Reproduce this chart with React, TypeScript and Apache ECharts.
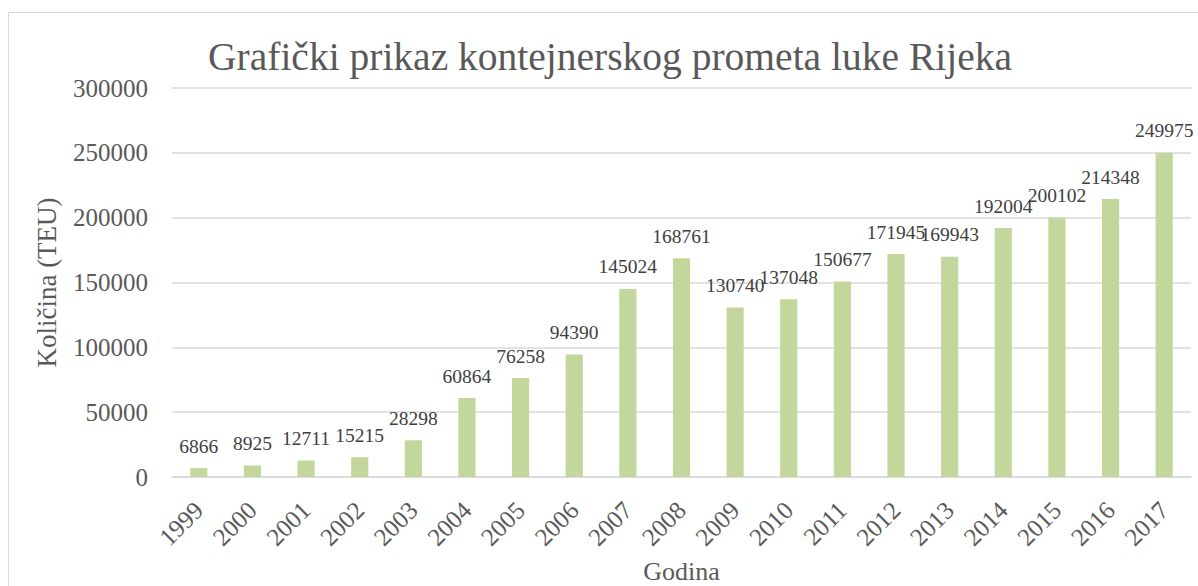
import React, { useEffect, useRef } from "react";
import * as echarts from "echarts";

const years = ["1999","2000","2001","2002","2003","2004","2005","2006","2007","2008","2009","2010","2011","2012","2013","2014","2015","2016","2017"];
const teu = [6866, 8925, 12711, 15215, 28298, 60864, 76258, 94390, 145024, 168761, 130740, 137048, 150677, 171945, 169943, 192004, 200102, 214348, 249975];
const titleText = "Grafički prikaz kontejnerskog prometa luke Rijeka";
const yName = "Količina (TEU)";
const xName = "Godina";

const FONT = "Liberation Serif";
const TXT = "#595959";

export default function App() {
  const ref = useRef<HTMLDivElement>(null);
  useEffect(() => {
    document.body.style.margin = "0";
    const chart = echarts.init(ref.current!, undefined, { renderer: "svg" });
    chart.setOption({
      animation: false,
      backgroundColor: "#ffffff",
      title: {
        text: titleText,
        left: 605,
        textAlign: "center",
        top: 32,
        textStyle: { fontFamily: FONT, fontSize: 39.5, fontWeight: "normal", color: TXT },
      },
      graphic: [
        {
          type: "rect",
          shape: { x: 8.5, y: 12.5, width: 1400, height: 800 },
          style: { fill: "none", stroke: "#d9d9d9", lineWidth: 1 },
          silent: true,
        },
      ],
      grid: { left: 172, right: 7, top: 88, bottom: 109, outerBoundsMode: "none", containLabel: false },
      xAxis: {
        type: "category",
        data: years,
        name: xName,
        nameLocation: "middle",
        nameGap: 81,
        nameTextStyle: { fontFamily: FONT, fontSize: 26, color: TXT },
        axisLine: { lineStyle: { color: "#d9d9d9", width: 1.5 } },
        axisTick: { show: false },
        axisLabel: { rotate: 45, margin: 29, fontFamily: FONT, fontSize: 25, color: TXT },
      },
      yAxis: {
        type: "value",
        min: 0,
        max: 300000,
        interval: 50000,
        name: yName,
        nameLocation: "middle",
        nameRotate: 90,
        nameGap: 112,
        nameTextStyle: { fontFamily: FONT, fontSize: 27, color: TXT },
        axisLine: { show: false },
        axisTick: { show: false },
        splitLine: { lineStyle: { color: "#d9d9d9", width: 1.5 } },
        axisLabel: {
          margin: 24,
          fontFamily: FONT,
          fontSize: 25,
          color: TXT,
          formatter: (v: number) => String(v),
        },
      },
      series: [
        {
          type: "bar",
          data: teu,
          barWidth: "32%",
          itemStyle: { color: "#c3d69b" },
          label: {
            show: true,
            position: "top",
            distance: 12,
            fontFamily: FONT,
            fontSize: 19.5,
            color: "#404040",
          },
        },
      ],
    });
    return () => chart.dispose();
  }, []);
  return <div ref={ref} style={{ width: 1198, height: 586 }} />;
}
